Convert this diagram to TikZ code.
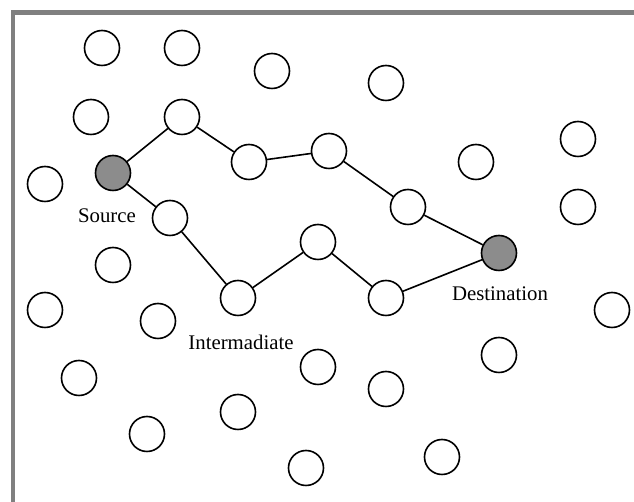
\documentclass[tikz,border=0pt]{standalone}
\usepackage{fontspec}
\setmainfont{Liberation Serif}
\usetikzlibrary{calc}

\begin{document}
\begin{tikzpicture}[x=0.5pt, y=-0.5pt,
  nd/.style={circle, draw, thick, minimum size=17.5pt, inner sep=0pt},
  endnd/.style={nd, fill=black!45},
  lbl/.style={font=\fontsize{10.4}{12}\selectfont}]

  % 枠
  \useasboundingbox (0,0) rectangle (634,502);
  \draw[line width=2.4pt, black!50] (634,12.5) -- (13,12.5) -- (13,502);

  % 送信元と宛先
  \node[endnd] (src) at (113,173) {};
  \node[endnd] (dst) at (499,253) {};

  % 経路上のノード
  \node[nd] (p1) at (182,117) {};
  \node[nd] (p2) at (249,162) {};
  \node[nd] (p3) at (329,151) {};
  \node[nd] (p4) at (408,207) {};
  \node[nd] (q1) at (170,218) {};
  \node[nd] (q2) at (238,298) {};
  \node[nd] (q3) at (318,242) {};
  \node[nd] (q4) at (386,298) {};

  % その他のノード
  \node[nd] (n1) at (102,48) {};
  \node[nd] (n2) at (182,48) {};
  \node[nd] (n3) at (272,71) {};
  \node[nd] (n4) at (386,83) {};
  \node[nd] (n5) at (91,117) {};
  \node[nd] (n6) at (45,184) {};
  \node[nd] (n7) at (476,162) {};
  \node[nd] (n8) at (578,139) {};
  \node[nd] (n9) at (578,207) {};
  \node[nd] (n10) at (113,265) {};
  \node[nd] (n11) at (45,310) {};
  \node[nd] (n12) at (158,321) {};
  \node[nd] (n13) at (612,310) {};
  \node[nd] (n14) at (499,355) {};
  \node[nd] (n15) at (318,367) {};
  \node[nd] (n16) at (79,378) {};
  \node[nd] (n17) at (386,389) {};
  \node[nd] (n18) at (238,412) {};
  \node[nd] (n19) at (147,434) {};
  \node[nd] (n20) at (442,457) {};
  \node[nd] (n21) at (306,468) {};

  % 経路
  \draw[thick] (src) -- (p1) -- (p2) -- (p3) -- (p4) -- (dst);
  \draw[thick] (src) -- (q1) -- (q2) -- (q3) -- (q4) -- (dst);

  % ラベル
  \node[lbl] (srclbl) at (107,216) {Source};
  \node[lbl] (midlbl) at (241,342) {Intermadiate};
  \node[lbl] (dstlbl) at (500,294) {Destination};
\end{tikzpicture}
\end{document}
